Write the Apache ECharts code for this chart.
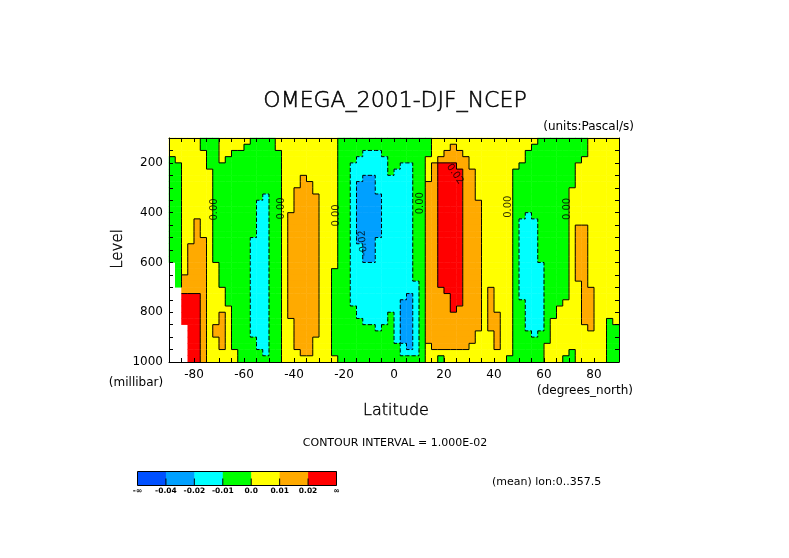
<!DOCTYPE html>
<html><head><meta charset="utf-8">
<script src="https://cdn.jsdelivr.net/npm/echarts@6/dist/echarts.min.js"></script>
<style>html,body{margin:0;padding:0;background:#fff}#chart{width:789px;height:558px}</style>
</head><body><div id="chart"></div>
<script>
// Latitude band centres (2.5 deg bands, -90 .. 90)
const lats = [-88.75,-86.25,-83.75,-81.25,-78.75,-76.25,-73.75,-71.25,-68.75,-66.25,-63.75,-61.25,-58.75,-56.25,-53.75,-51.25,-48.75,-46.25,-43.75,-41.25,-38.75,-36.25,-33.75,-31.25,-28.75,-26.25,-23.75,-21.25,-18.75,-16.25,-13.75,-11.25,-8.75,-6.25,-3.75,-1.25,1.25,3.75,6.25,8.75,11.25,13.75,16.25,18.75,21.25,23.75,26.25,28.75,31.25,33.75,36.25,38.75,41.25,43.75,46.25,48.75,51.25,53.75,56.25,58.75,61.25,63.75,66.25,68.75,71.25,73.75,76.25,78.75,81.25,83.75,86.25,88.75];
// Pressure band centres (25 mb bands, 100 .. 1000 mb), top to bottom
const levels = [112.5,137.5,162.5,187.5,212.5,237.5,262.5,287.5,312.5,337.5,362.5,387.5,412.5,437.5,462.5,487.5,512.5,537.5,562.5,587.5,612.5,637.5,662.5,687.5,712.5,737.5,762.5,787.5,812.5,837.5,862.5,887.5,912.5,937.5,962.5,987.5];

// Omega (Pa/s), one array per pressure band (null = below ground)
const w112 = [.005,.005,.005,.005,.005, -.005,-.005,-.005, .005,.005,.005,.005,.005, -.005,-.005,-.005,-.005, .005,.005,.005,.005,.005,.005,.005,.005,.005,.005, -.005,-.005,-.005,-.005,-.005,-.005,-.005,-.005,-.005,-.005,-.005,-.005,-.005,-.005,-.005, .005,.005,.005,.005,.005,.005,.005,.005,.005,.005,.005,.005,.005,.005,.005,.005,.005, -.005,-.005,-.005,-.005,-.005,-.005,-.005,-.005, .005,.005,.005,.005,.005];
const w137 = [.005,.005,.005,.005,.005, -.005,-.005,-.005, .005,.005,.005,.005, -.005,-.005,-.005,-.005,-.005, .005,.005,.005,.005,.005,.005,.005,.005,.005,.005, -.005,-.005,-.005,-.005,-.005,-.005,-.005,-.005,-.005,-.005,-.005,-.005,-.005,-.005,-.005, .005,.005,.005, .015, .005,.005,.005,.005,.005,.005,.005,.005,.005,.005,.005,.005, -.005,-.005,-.005,-.005,-.005,-.005,-.005,-.005,-.005, .005,.005,.005,.005,.005];
const w162 = [.005,.005,.005,.005,.005,.005, -.005,-.005, .005,.005, -.005,-.005,-.005,-.005,-.005,-.005,-.005,-.005, .005,.005,.005,.005,.005,.005,.005,.005,.005, -.005,-.005,-.005,-.005, -.015,-.015,-.015, -.005,-.005,-.005,-.005,-.005,-.005,-.005,-.005, .005,.005, .015,.015,.015, .005,.005,.005,.005,.005,.005,.005,.005,.005,.005, -.005,-.005,-.005,-.005,-.005,-.005,-.005,-.005,-.005,-.005, .005,.005,.005,.005,.005];
const w187 = [-.005, .005,.005,.005,.005,.005, -.005,-.005, .005, -.005,-.005,-.005,-.005,-.005,-.005,-.005,-.005,-.005, .005,.005,.005,.005,.005,.005,.005,.005,.005, -.005,-.005,-.005, -.015,-.015,-.015,-.015,-.015, -.005,-.005,-.005,-.005,-.005,-.005, .005,.005, .015,.015,.015,.015,.015, .005,.005,.005,.005,.005,.005,.005,.005,.005, -.005,-.005,-.005,-.005,-.005,-.005,-.005,-.005,-.005, .005,.005,.005,.005,.005,.005];
const w212 = [-.005,-.005, .005,.005,.005,.005, -.005,-.005,-.005,-.005,-.005,-.005,-.005,-.005,-.005,-.005,-.005,-.005, .005,.005,.005,.005,.005,.005,.005,.005,.005, -.005,-.005, -.015,-.015,-.015,-.015,-.015,-.015, -.005,-.005, -.015,-.015, -.005,-.005, .005, .015, .025,.025,.025, .015,.015, .005,.005,.005,.005,.005,.005,.005,.005, -.005,-.005,-.005,-.005,-.005,-.005,-.005,-.005,-.005, .005,.005,.005,.005,.005,.005,.005];
const w237 = [-.005,-.005, .005,.005,.005,.005,.005, -.005,-.005,-.005,-.005,-.005,-.005,-.005,-.005,-.005,-.005,-.005, .005,.005,.005,.005,.005,.005,.005,.005,.005, -.005,-.005, -.015,-.015,-.015,-.015,-.015,-.015, -.005, -.015,-.015,-.015, -.005,-.005, .005, .015, .025,.025,.025,.025, .015,.015, .005,.005,.005,.005,.005,.005, -.005,-.005,-.005,-.005,-.005,-.005,-.005,-.005,-.005,-.005, .005,.005,.005,.005,.005,.005,.005];
const w262 = [-.005,-.005, .005,.005,.005,.005,.005, -.005,-.005,-.005,-.005,-.005,-.005,-.005,-.005,-.005,-.005,-.005, .005,.005,.005, .015, .005,.005,.005,.005,.005, -.005,-.005, -.015,-.015, -.03,-.03, -.015,-.015,-.015,-.015,-.015,-.015, -.005,-.005, .005, .015, .025,.025,.025,.025, .015,.015, .005,.005,.005,.005,.005,.005, -.005,-.005,-.005,-.005,-.005,-.005,-.005,-.005,-.005,-.005, .005,.005,.005,.005,.005,.005,.005];
const w287 = [-.005,-.005, .005,.005,.005,.005,.005, -.005,-.005,-.005,-.005,-.005,-.005,-.005,-.005,-.005,-.005,-.005, .005,.005,.005, .015,.015, .005,.005,.005,.005, -.005,-.005, -.015, -.03,-.03,-.03, -.015,-.015,-.015,-.015,-.015,-.015, -.005,-.005, .015,.015, .025,.025,.025,.025, .015,.015, .005,.005,.005,.005,.005,.005, -.005,-.005,-.005,-.005,-.005,-.005,-.005,-.005,-.005,-.005, .005,.005,.005,.005,.005,.005,.005];
const w312 = [-.005,-.005, .005,.005,.005,.005,.005, -.005,-.005,-.005,-.005,-.005,-.005,-.005,-.005,-.005,-.005,-.005, .005,.005, .015,.015,.015, .005,.005,.005,.005, -.005,-.005, -.015, -.03,-.03,-.03, -.015,-.015,-.015,-.015,-.015,-.015, -.005,-.005, .015,.015, .025,.025,.025,.025, .015,.015, .005,.005,.005,.005,.005,.005, -.005,-.005,-.005,-.005,-.005,-.005,-.005,-.005,-.005, .005,.005,.005,.005,.005,.005,.005,.005];
const w337 = [-.005,-.005, .005,.005,.005,.005,.005, -.005,-.005,-.005,-.005,-.005,-.005,-.005,-.005, -.015, -.005,-.005, .005,.005, .015,.015,.015,.015, .005,.005,.005, -.005,-.005, -.015, -.03,-.03,-.03,-.03, -.015,-.015,-.015,-.015,-.015, -.005,-.005, .015,.015, .025,.025,.025,.025, .015,.015, .005,.005,.005,.005,.005,.005, -.005,-.005,-.005,-.005,-.005,-.005,-.005,-.005,-.005, .005,.005,.005,.005,.005,.005,.005,.005];
const w362 = [-.005,-.005, .005,.005,.005,.005,.005, -.005,-.005,-.005,-.005,-.005,-.005,-.005, -.015,-.015, -.005,-.005, .005,.005, .015,.015,.015,.015, .005,.005,.005, -.005,-.005, -.015, -.03,-.03,-.03,-.03, -.015,-.015,-.015,-.015,-.015, -.005,-.005, .015,.015, .025,.025,.025,.025, .015,.015,.015, .005,.005,.005,.005,.005, -.005,-.005,-.005,-.005,-.005,-.005,-.005,-.005,-.005, .005,.005,.005,.005,.005,.005,.005,.005];
const w387 = [-.005,-.005, .005,.005,.005,.005,.005, -.005,-.005,-.005,-.005,-.005,-.005,-.005, -.015,-.015, -.005,-.005, .005,.005, .015,.015,.015,.015, .005,.005,.005, -.005,-.005, -.015, -.03,-.03,-.03,-.03, -.015,-.015,-.015,-.015,-.015, -.005,-.005, .015,.015, .025,.025,.025,.025, .015,.015,.015, .005,.005,.005,.005,.005, -.005,-.005,-.005,-.005,-.005,-.005,-.005,-.005,-.005, .005,.005,.005,.005,.005,.005,.005,.005];
const w412 = [-.005,-.005, .005,.005,.005,.005,.005, -.005,-.005,-.005,-.005,-.005,-.005,-.005, -.015,-.015, -.005,-.005, .005, .015,.015,.015,.015,.015, .005,.005,.005, -.005,-.005, -.015, -.03,-.03,-.03,-.03, -.015,-.015,-.015,-.015,-.015, -.005,-.005, .015,.015, .025,.025,.025,.025, .015,.015,.015, .005,.005,.005,.005,.005, -.005,-.005, -.015, -.005,-.005,-.005,-.005,-.005,-.005, .005,.005,.005,.005,.005,.005,.005,.005];
const w437 = [-.005,-.005, .005,.005, .015, .005,.005, -.005,-.005,-.005,-.005,-.005,-.005,-.005, -.015,-.015, -.005,-.005, .005, .015,.015,.015,.015,.015, .005,.005,.005, -.005,-.005, -.015, -.03,-.03,-.03,-.03, -.015,-.015,-.015,-.015,-.015, -.005,-.005, .015,.015, .025,.025,.025,.025, .015,.015,.015, .005,.005,.005,.005,.005, -.005, -.015,-.015,-.015, -.005,-.005,-.005,-.005,-.005, .005,.005,.005,.005,.005,.005,.005,.005];
const w462 = [-.005,-.005, .005,.005, .015, .005,.005, -.005,-.005,-.005,-.005,-.005,-.005,-.005, -.015,-.015, -.005,-.005, .005, .015,.015,.015,.015,.015, .005,.005,.005, -.005,-.005, -.015, -.03,-.03,-.03,-.03, -.015,-.015,-.015,-.015,-.015, -.005,-.005, .015,.015, .025,.025,.025,.025, .015,.015,.015, .005,.005,.005,.005,.005, -.005, -.015,-.015,-.015, -.005,-.005,-.005,-.005,-.005, .005, .015,.015, .005,.005,.005,.005,.005];
const w487 = [-.005,-.005, .005,.005, .015, .005,.005, -.005,-.005,-.005,-.005,-.005,-.005,-.005, -.015,-.015, -.005,-.005, .005, .015,.015,.015,.015,.015, .005,.005,.005, -.005,-.005, -.015, -.03,-.03,-.03,-.03, -.015,-.015,-.015,-.015,-.015, -.005,-.005, .015,.015, .025,.025,.025,.025, .015,.015,.015, .005,.005,.005,.005,.005, -.005, -.015,-.015,-.015, -.005,-.005,-.005,-.005,-.005, .005, .015,.015, .005,.005,.005,.005,.005];
const w512 = [-.005,-.005, .005,.005, .015,.015, .005, -.005,-.005,-.005,-.005,-.005,-.005, -.015,-.015,-.015, -.005,-.005, .005, .015,.015,.015,.015,.015, .005,.005,.005, -.005,-.005, -.015, -.03,-.03,-.03, -.015,-.015,-.015,-.015,-.015,-.015, -.005,-.005, .015,.015, .025,.025,.025,.025, .015,.015,.015, .005,.005,.005,.005,.005, -.005, -.015,-.015,-.015, -.005,-.005,-.005,-.005,-.005, .005, .015,.015, .005,.005,.005,.005,.005];
const w537 = [-.005,-.005, .005, .015,.015,.015, .005, -.005,-.005,-.005,-.005,-.005,-.005, -.015,-.015,-.015, -.005,-.005, .005, .015,.015,.015,.015,.015, .005,.005,.005, -.005,-.005, -.015,-.015, -.03,-.03, -.015,-.015,-.015,-.015,-.015,-.015, -.005,-.005, .015,.015, .025,.025,.025,.025, .015,.015,.015, .005,.005,.005,.005,.005, -.005, -.015,-.015,-.015, -.005,-.005,-.005,-.005,-.005, .005, .015,.015, .005,.005,.005,.005,.005];
const w562 = [-.005,-.005, .005, .015,.015,.015, .005, -.005,-.005,-.005,-.005,-.005,-.005, -.015,-.015,-.015, -.005,-.005, .005, .015,.015,.015,.015,.015, .005,.005,.005, -.005,-.005, -.015,-.015, -.03,-.03, -.015,-.015,-.015,-.015,-.015,-.015, -.005,-.005, .015,.015, .025,.025,.025,.025, .015,.015,.015, .005,.005,.005,.005,.005, -.005, -.015,-.015,-.015, -.005,-.005,-.005,-.005,-.005, .005, .015,.015, .005,.005,.005,.005,.005];
const w587 = [-.005,-.005, .005, .015,.015,.015, .005, -.005,-.005,-.005,-.005,-.005,-.005, -.015,-.015,-.015, -.005,-.005, .005, .015,.015,.015,.015,.015, .005,.005,.005, -.005,-.005, -.015,-.015, -.03,-.03, -.015,-.015,-.015,-.015,-.015,-.015, -.005,-.005, .015,.015, .025,.025,.025,.025, .015,.015,.015, .005,.005,.005,.005,.005, -.005, -.015,-.015,-.015, -.005,-.005,-.005,-.005,-.005, .005, .015,.015, .005,.005,.005,.005,.005];
const w612 = [null, -.005, .005, .015,.015,.015, .005,.005, -.005,-.005,-.005,-.005,-.005, -.015,-.015,-.015, -.005,-.005, .005, .015,.015,.015,.015,.015, .005,.005,.005, -.005,-.005, -.015,-.015,-.015,-.015,-.015,-.015,-.015,-.015,-.015,-.015, -.005,-.005, .015,.015, .025,.025,.025,.025, .015,.015,.015, .005,.005,.005,.005,.005, -.005, -.015,-.015,-.015,-.015, -.005,-.005,-.005,-.005, .005, .015,.015, .005,.005,.005,.005,.005];
const w637 = [null, -.005, .005, .015,.015,.015, .005,.005, -.005,-.005,-.005,-.005,-.005, -.015,-.015,-.015, -.005,-.005, .005, .015,.015,.015,.015,.015, .005,.005, -.005,-.005,-.005, -.015,-.015,-.015,-.015,-.015,-.015,-.015,-.015,-.015,-.015, -.005,-.005, .015,.015, .025,.025,.025,.025, .015,.015,.015, .005,.005,.005,.005,.005, -.005, -.015,-.015,-.015,-.015, -.005,-.005,-.005,-.005, .005, .015,.015, .005,.005,.005,.005,.005];
const w662 = [null, -.005, .015,.015,.015,.015, .005,.005, -.005,-.005,-.005,-.005,-.005, -.015,-.015,-.015, -.005,-.005, .005, .015,.015,.015,.015,.015, .005,.005, -.005,-.005,-.005, -.015,-.015,-.015,-.015,-.015,-.015,-.015,-.015,-.015,-.015, -.005,-.005, .015,.015, .025,.025,.025,.025, .015,.015,.015, .005,.005,.005,.005,.005, -.005, -.015,-.015,-.015,-.015, -.005,-.005,-.005,-.005, .005, .015,.015, .005,.005,.005,.005,.005];
const w687 = [null, -.005, .015,.015,.015,.015, .005,.005, -.005,-.005,-.005,-.005,-.005, -.015,-.015,-.015, -.005,-.005, .005, .015,.015,.015,.015,.015, .005,.005, -.005,-.005,-.005, -.015,-.015,-.015,-.015,-.015,-.015,-.015,-.015,-.015,-.015,-.015, -.005, .015,.015, .025,.025,.025,.025, .015,.015,.015, .005,.005,.005,.005,.005, -.005, -.015,-.015,-.015,-.015, -.005,-.005,-.005,-.005, .005,.005, .015, .005,.005,.005,.005,.005];
const w712 = [null,null, .015,.015,.015,.015, .005,.005,.005, -.005,-.005,-.005,-.005, -.015,-.015,-.015, -.005,-.005, .005, .015,.015,.015,.015,.015, .005,.005, -.005,-.005,-.005, -.015,-.015,-.015,-.015,-.015,-.015,-.015,-.015,-.015,-.015,-.015, -.005, .015,.015,.015, .025,.025,.025, .015,.015,.015, .005, .015, .005,.005,.005, -.005, -.015,-.015,-.015,-.015, -.005,-.005,-.005,-.005, .005,.005, .015,.015, .005,.005,.005,.005];
const w737 = [null,null, .035,.035,.035, .015, .005,.005,.005, -.005,-.005,-.005,-.005, -.015,-.015,-.015, -.005,-.005, .005, .015,.015,.015,.015,.015, .005,.005, -.005,-.005,-.005, -.015,-.015,-.015,-.015,-.015,-.015,-.015,-.015,-.015, -.03, -.015, -.005, .015,.015,.015,.015, .025,.025, .015,.015,.015, .005, .015, .005,.005,.005, -.005, -.015,-.015,-.015,-.015, -.005,-.005,-.005,-.005, .005,.005, .015,.015, .005,.005,.005,.005];
const w762 = [null,null, .035,.035,.035, .015, .005,.005,.005, -.005,-.005,-.005,-.005, -.015,-.015,-.015, -.005,-.005, .005, .015,.015,.015,.015,.015, .005,.005, -.005,-.005,-.005, -.015,-.015,-.015,-.015,-.015,-.015,-.015,-.015, -.03,-.03, -.015, -.005, .015,.015,.015,.015, .025,.025, .015,.015,.015, .005, .015, .005,.005,.005, -.005,-.005, -.015,-.015,-.015, -.005,-.005,-.005, .005,.005,.005, .015,.015, .005,.005,.005,.005];
const w787 = [null,null, .035,.035,.035, .015, .005,.005,.005,.005, -.005,-.005,-.005, -.015,-.015,-.015, -.005,-.005, .005, .015,.015,.015,.015,.015, .005,.005, -.005,-.005,-.005,-.005, -.015,-.015,-.015,-.015,-.015,-.015,-.015, -.03,-.03, -.015, -.005, .015,.015,.015,.015, .025, .015,.015,.015,.015, .005, .015, .005,.005,.005, -.005,-.005, -.015,-.015,-.015, -.005,-.005, .005,.005,.005,.005, .015,.015, .005,.005,.005,.005];
const w812 = [null,null, .035,.035,.035, .015, .005,.005, .015, .005, -.005,-.005,-.005, -.015,-.015,-.015, -.005,-.005, .005, .015,.015,.015,.015,.015, .005,.005, -.005,-.005,-.005,-.005, -.015,-.015,-.015,-.015,-.015, -.005, -.015, -.03,-.03, -.015, -.005, .015,.015,.015,.015,.015,.015,.015,.015,.015, .005, .015,.015, .005,.005, -.005,-.005, -.015,-.015,-.015, -.005,-.005, .005,.005,.005,.005, .015,.015, .005,.005,.005,.005];
const w837 = [null,null, .035,.035,.035, .015, .005,.005, .015, .005, -.005,-.005,-.005, -.015,-.015,-.015, -.005,-.005, .005,.005, .015,.015,.015,.015, .005,.005, -.005,-.005,-.005,-.005,-.005, -.015,-.015,-.015,-.015, -.005, -.015, -.03,-.03, -.015, -.005, .015,.015,.015,.015,.015,.015,.015,.015,.015, .005, .015,.015, .005,.005, -.005,-.005, -.015,-.015,-.015, -.005, .005,.005,.005,.005,.005, .015,.015, .005,.005, -.005, .005];
const w862 = [null,null,null, .035,.035, .015, .005, .015,.015, .005, -.005,-.005,-.005, -.015,-.015,-.015, -.005,-.005, .005,.005, .015,.015,.015,.015, .005,.005, -.005,-.005,-.005,-.005,-.005,-.005,-.005, -.015, -.005,-.005, -.015, -.03,-.03, -.015, -.005, .015,.015,.015,.015,.015,.015,.015,.015,.015, .005, .015,.015, .005,.005, -.005,-.005, -.015,-.015,-.015, -.005, .005,.005,.005,.005,.005,.005, .015, .005,.005, -.005,-.005];
const w887 = [null,null,null, .035,.035, .015, .005, .015,.015, .005, -.005,-.005,-.005, -.015,-.015,-.015, -.005,-.005, .005,.005, .015,.015,.015,.015, .005,.005, -.005,-.005,-.005,-.005,-.005,-.005,-.005,-.005,-.005,-.005, -.015, -.03,-.03, -.015, -.005, .015,.015,.015,.015,.015,.015,.015,.015, .005,.005,.005, .015, .005,.005, -.005,-.005,-.005, -.015, -.005,-.005, .005,.005,.005,.005,.005,.005,.005,.005,.005, -.005,-.005];
const w912 = [null,null,null, .035,.035, .015, .005,.005, .015, .005, -.005,-.005,-.005,-.005, -.015,-.015, -.005,-.005, .005,.005, .015,.015,.015, .005,.005,.005, -.005,-.005,-.005,-.005,-.005,-.005,-.005,-.005,-.005,-.005, -.015, -.03,-.03, -.015, -.005, .015,.015,.015,.015,.015,.015,.015,.015, .005,.005,.005, .015, .005,.005, -.005,-.005,-.005,-.005,-.005,-.005, .005,.005,.005,.005,.005,.005,.005,.005,.005, -.005,-.005];
const w937 = [null,null,null, .035,.035, .015, .005,.005, .015, .005, -.005,-.005,-.005,-.005, -.015,-.015, -.005,-.005, .005,.005, .015,.015,.015, .005,.005,.005, -.005,-.005,-.005,-.005,-.005,-.005,-.005,-.005,-.005,-.005,-.005, -.015, -.03, -.015, -.005, .005, .015,.015,.015,.015,.015,.015, .005,.005,.005,.005, .015, .005,.005, -.005,-.005,-.005,-.005,-.005, .005,.005,.005,.005,.005,.005,.005,.005,.005,.005, -.005,-.005];
const w962 = [null,null,null, .035,.035, .015, .005,.005,.005,.005,.005, -.005,-.005,-.005,-.005, -.015, -.005,-.005, .005,.005,.005, .015,.015, .005,.005,.005, -.005,-.005,-.005,-.005,-.005,-.005,-.005,-.005,-.005,-.005,-.005, -.015,-.015,-.015, -.005, .005,.005,.005,.005,.005,.005,.005,.005,.005,.005,.005,.005,.005,.005, -.005,-.005,-.005,-.005,-.005, .005,.005,.005,.005, -.005, .005,.005,.005,.005,.005, -.005,-.005];
const w987 = [null,null,null, .035,.035, .015, .005,.005,.005,.005,.005, -.005,-.005,-.005,-.005,-.005,-.005,-.005, .005,.005,.005,.005,.005,.005,.005,.005,.005, -.005,-.005,-.005,-.005,-.005,-.005,-.005,-.005,-.005,-.005,-.005,-.005,-.005,-.005, .005,.005, -.005, .005,.005,.005,.005,.005,.005,.005,.005,.005,.005, -.005,-.005,-.005,-.005,-.005,-.005, .005,.005,.005, -.005,-.005, .005,.005,.005,.005,.005, -.005,-.005];

const rows = [w112,w137,w162,w187,w212,w237,w262,w287,w312,w337,w362,w387,w412,w437,w462,w487,w512,w537,w562,w587,w612,w637,w662,w687,w712,w737,w762,w787,w812,w837,w862,w887,w912,w937,w962,w987];
rows.forEach((r, k) => { if (r.length !== lats.length) throw new Error('row ' + levels[k] + ' has ' + r.length + ' values'); });

// Shading classes (contour interval 0.01) and colour bar
const classEdges = [-0.04,-0.02,-0.01,0,0.01,0.02];
const classColors = ['#0050ff','#00a0ff','#00ffff','#00ff00','#ffff00','#ffaa00','#ff0000'];
const barLabels = ['-\u221e','-0.04','-0.02','-0.01','0.0','0.01','0.02','\u221e'];

// Contour labels
const labelLats = [-72,-45.2,-22.9,-12.4,10.4,24.4,45.7,69.5];
const labelLevels = [387,383,411,522,362,245,376,385];
const labelTexts = ['0.00','0.00','0.00','-0.02','0.00','0.02','0.00','0.00'];
const labelRot = [90,90,90,95,90,-55,90,90];

const xTickLabels = [-80,-60,-40,-20,0,20,40,60,80];
const yTickLabels = [200,400,600,800,1000];

const heat = [];
rows.forEach((row, j) => row.forEach((v, i) => { if (v !== null) heat.push([i, j, v]); }));

const pieces = classColors.map((c, k) => {
  const p = { color: c };
  if (k > 0) p.gte = classEdges[k - 1];
  if (k < classEdges.length) p.lt = classEdges[k];
  return p;
});

function classOf(v) {
  if (v === null || v === undefined) return -1;
  let k = 0;
  while (k < classEdges.length && v >= classEdges[k]) k++;
  return k;
}

// contour line pieces along cell borders where the shading class changes
function renderBorders(params, api) {
  const i = api.value(0), j = api.value(1);
  const c = api.coord([i, j]);
  const s = api.size([1, 1]);
  const w = Math.abs(s[0]), h = Math.abs(s[1]);
  const a = classOf(rows[j][i]);
  const kids = [];
  const push = (b, x1, y1, x2, y2) => {
    if (b < 0 || b === a) return;
    const hi = Math.max(a, b) - 1;
    const dashed = classEdges[hi] < 0;
    kids.push({ type: 'line', shape: { x1: x1, y1: y1, x2: x2, y2: y2 },
      style: { stroke: '#000', lineWidth: 1, lineDash: dashed ? [3, 2] : null } });
  };
  if (i + 1 < lats.length) push(classOf(rows[j][i + 1]), c[0] + w / 2, c[1] - h / 2, c[0] + w / 2, c[1] + h / 2);
  if (j + 1 < levels.length) push(classOf(rows[j + 1][i]), c[0] - w / 2, c[1] + h / 2, c[0] + w / 2, c[1] + h / 2);
  return { type: 'group', children: kids };
}

const FF = 'DejaVu Sans';
const G = { left: 169, top: 138, width: 450, height: 224 };

function txt(text, x, y, size, extra) {
  extra = extra || {};
  const st = { text: text, fill: '#000', fontFamily: FF, fontSize: size, fontWeight: extra.weight || 'normal',
    align: extra.align || 'center', verticalAlign: 'middle' };
  if (extra.stroke) { st.stroke = '#000'; st.lineWidth = extra.stroke; }
  return { type: 'text', x: x, y: y, rotation: extra.rotation || 0, z: 10, style: st };
}

const graphics = [
  txt('OMEGA_2001-DJF_NCEP', 395, 101, 22, { weight: 200, stroke: 0.5 }),
  txt('(units:Pascal/s)', 634, 127, 12, { align: 'right' }),
  txt('Level', 118, 249, 15, { rotation: Math.PI / 2, weight: 200, stroke: 0.4 }),
  txt('(millibar)', 136, 383, 12),
  txt('(degrees_north)', 585, 391, 12),
  txt('Latitude', 396, 411, 16, { weight: 200, stroke: 0.4 }),
  txt('CONTOUR INTERVAL = 1.000E-02', 395, 443, 11),
  txt('(mean) lon:0..357.5', 492, 482, 11, { align: 'left' })
];

// colour bar
const bx = 137.5, by = 471.5, bw = 199 / classColors.length, bh = 14;
classColors.forEach((c, k) => {
  graphics.push({ type: 'rect', shape: { x: bx + k * bw, y: by, width: bw + 0.5, height: bh }, style: { fill: c }, z: 5 });
});
graphics.push({ type: 'rect', shape: { x: bx, y: by, width: bw * classColors.length, height: bh }, style: { fill: null, stroke: '#000', lineWidth: 1 }, z: 6 });
barLabels.forEach((t, k) => {
  const x = bx + k * bw;
  if (k > 0 && k < barLabels.length - 1) {
    graphics.push({ type: 'line', shape: { x1: x, y1: by + 7, x2: x, y2: by + bh }, style: { stroke: '#000', lineWidth: 1 }, z: 6 });
  }
  graphics.push(txt(t, x, by + bh + 5.5, 7.5, { weight: 'bold' }));
});

const axisCommon = {
  gridIndex: 1, type: 'value', z: 5,
  axisLine: { show: true, onZero: false, lineStyle: { color: '#000', width: 1 } },
  axisTick: { show: true, inside: true, length: 4, lineStyle: { color: '#000', width: 1 } },
  splitLine: { show: false }
};

const option = {
  animation: false,
  backgroundColor: '#fff',
  grid: [Object.assign({}, G), Object.assign({}, G)],
  xAxis: [
    { gridIndex: 0, type: 'category', data: lats, show: false },
    Object.assign({}, axisCommon, { position: 'bottom', min: -90, max: 90, interval: 5,
      axisLabel: { color: '#000', fontFamily: FF, fontSize: 12, margin: 7,
        formatter: v => (xTickLabels.indexOf(v) >= 0 ? String(v) : '') } }),
    Object.assign({}, axisCommon, { position: 'top', min: -90, max: 90, interval: 5, axisLabel: { show: false } })
  ],
  yAxis: [
    { gridIndex: 0, type: 'category', data: levels, inverse: true, show: false },
    Object.assign({}, axisCommon, { position: 'left', min: 100, max: 1000, interval: 50, inverse: true,
      axisLabel: { color: '#000', fontFamily: FF, fontSize: 12, margin: 6,
        formatter: v => (yTickLabels.indexOf(v) >= 0 ? String(v) : '') } }),
    Object.assign({}, axisCommon, { position: 'right', min: 100, max: 1000, interval: 50, inverse: true, axisLabel: { show: false } })
  ],
  visualMap: { type: 'piecewise', show: false, seriesIndex: 0, dimension: 2, pieces: pieces },
  series: [
    { type: 'heatmap', xAxisIndex: 0, yAxisIndex: 0, data: heat, progressive: 0,
      itemStyle: { borderWidth: 0 }, emphasis: { disabled: true } },
    { type: 'custom', xAxisIndex: 0, yAxisIndex: 0, data: heat, renderItem: renderBorders,
      z: 4, silent: true, progressive: 0, clip: true },
    { type: 'scatter', xAxisIndex: 1, yAxisIndex: 1, symbolSize: 0, z: 6, silent: true,
      itemStyle: { color: 'rgba(0,0,0,0)' },
      data: labelTexts.map((t, k) => ({ name: t, value: [labelLats[k], labelLevels[k]],
        label: { rotate: labelRot[k] } })),
      label: { show: true, position: 'inside', formatter: '{b}', color: '#000', fontFamily: FF, fontSize: 10 },
      labelLayout: { hideOverlap: false } }
  ],
  graphic: graphics
};

const chart = echarts.init(document.getElementById('chart'), null, { renderer: 'canvas' });
chart.setOption(option);
</script></body></html>
